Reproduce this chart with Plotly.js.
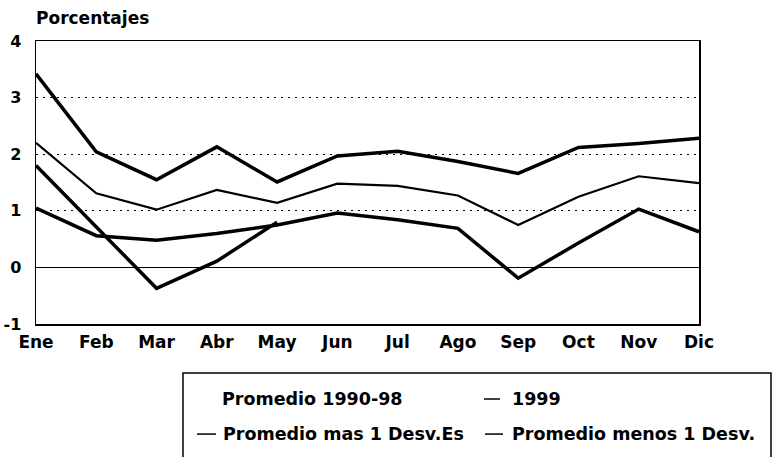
<!DOCTYPE html>
<html>
<head>
<meta charset="utf-8">
<script src="https://cdn.plot.ly/plotly-3.0.1.min.js"></script>
<style>body{margin:0;padding:0;background:#fff;}#chart{width:773px;height:457px;}</style>
</head>
<body>
<div id="chart"></div>
<script>
const months = ["Ene","Feb","Mar","Abr","May","Jun","Jul","Ago","Sep","Oct","Nov","Dic"];
const promedio = [2.20, 1.31, 1.02, 1.37, 1.14, 1.48, 1.44, 1.27, 0.75, 1.25, 1.61, 1.49];
const anio1999 = [1.80, 0.72, -0.37, 0.11, 0.80, null, null, null, null, null, null, null];
const masDesv = [3.42, 2.04, 1.55, 2.13, 1.51, 1.97, 2.05, 1.87, 1.66, 2.12, 2.19, 2.28];
const menosDesv = [1.05, 0.56, 0.48, 0.60, 0.75, 0.96, 0.84, 0.69, -0.19, 0.43, 1.03, 0.63];
const names = ["Promedio 1990-98", "1999", "Promedio mas 1 Desv.Es", "Promedio menos 1 Desv."];
const yTicks = [-1, 0, 1, 2, 3, 4];

const F = "DejaVu Sans";
const traces = [
  {x: months, y: masDesv, name: names[2], mode: "lines", line: {color: "#000", width: 3.5}, showlegend: false},
  {x: months, y: promedio, name: names[0], mode: "lines", line: {color: "#000", width: 2.2}, showlegend: false},
  {x: months, y: menosDesv, name: names[3], mode: "lines", line: {color: "#000", width: 3.5}, showlegend: false},
  {x: months, y: anio1999, name: names[1], mode: "lines", line: {color: "#000", width: 3.5}, showlegend: false, connectgaps: false}
];

const row1 = -0.265, row2 = -0.389;
const shapes = [
  {type: "rect", xref: "paper", yref: "paper", x0: 0.2217, x1: 1.1086, y0: -0.5, y1: -0.173, line: {color: "#000", width: 1.5}, fillcolor: "rgba(0,0,0,0)"},
  {type: "line", xref: "paper", yref: "paper", x0: 0.6757, x1: 0.6998, y0: row1, y1: row1, line: {color: "#000", width: 1.5}},
  {type: "line", xref: "paper", yref: "paper", x0: 0.2428, x1: 0.2715, y0: row2, y1: row2, line: {color: "#000", width: 1.5}},
  {type: "line", xref: "paper", yref: "paper", x0: 0.6772, x1: 0.7044, y0: row2, y1: row2, line: {color: "#000", width: 1.5}}
];

const lf = {family: F, size: 17.5, color: "#000", weight: "bold"};
const annotations = [
  {text: "Porcentajes", xref: "paper", yref: "paper", x: -0.003, y: 1.08, xanchor: "left", yanchor: "middle", showarrow: false, font: {family: F, size: 17, color: "#000", weight: "bold"}},
  {text: names[0], xref: "paper", yref: "paper", x: 0.2775, y: row1, xanchor: "left", yanchor: "middle", showarrow: false, font: lf},
  {text: names[1], xref: "paper", yref: "paper", x: 0.7149, y: row1, xanchor: "left", yanchor: "middle", showarrow: false, font: lf},
  {text: names[2], xref: "paper", yref: "paper", x: 0.279, y: row2, xanchor: "left", yanchor: "middle", showarrow: false, font: lf},
  {text: names[3], xref: "paper", yref: "paper", x: 0.7149, y: row2, xanchor: "left", yanchor: "middle", showarrow: false, font: lf}
];

const layout = {
  width: 773, height: 457,
  margin: {l: 36, r: 74, t: 41, b: 133},
  paper_bgcolor: "#fff", plot_bgcolor: "#fff",
  showlegend: false,
  xaxis: {
    type: "category", range: [0, 11], showgrid: false, zeroline: false,
    showline: true, linecolor: "#000", linewidth: 1.5, mirror: true,
    ticks: "", ticklabelstandoff: 2, tickfont: {family: F, size: 17, color: "#000", weight: "bold"}, fixedrange: true
  },
  yaxis: {
    range: [-1, 4], tickvals: yTicks, ticktext: yTicks.map(String),
    showgrid: true, gridcolor: "#000", gridwidth: 1.2, griddash: "2px,5px",
    zeroline: true, zerolinecolor: "#000", zerolinewidth: 1.2,
    showline: true, linecolor: "#000", linewidth: 1.5, mirror: true,
    ticks: "", ticklabelstandoff: 10, tickfont: {family: F, size: 16, color: "#000", weight: "bold"}, fixedrange: true
  },
  shapes: shapes,
  annotations: annotations
};

Plotly.newPlot("chart", traces, layout, {displayModeBar: false, staticPlot: true});
</script>
</body>
</html>
